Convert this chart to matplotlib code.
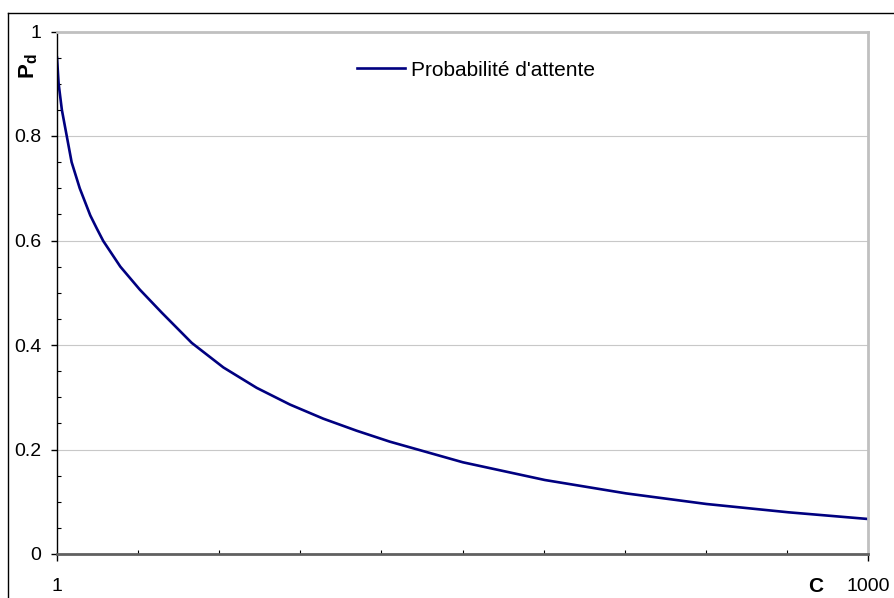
import numpy as np
import matplotlib.pyplot as plt
from matplotlib.lines import Line2D
from matplotlib.ticker import FixedLocator

plt.rcParams['font.family'] = ['Liberation Sans', 'DejaVu Sans']
plt.rcParams['mathtext.fontset'] = 'custom'
plt.rcParams['mathtext.bf'] = 'Liberation Sans:bold'
plt.rcParams['mathtext.rm'] = 'Liberation Sans'

# valeurs
c_vals = [1, 3, 7, 13, 19, 29, 42, 50, 58, 79, 103, 130, 167, 206, 247,
          288, 329, 370, 411, 501, 602, 702, 801, 902, 1000]
pd_vals = [0.95, 0.90, 0.85, 0.80, 0.750, 0.700, 0.648, 0.623, 0.599, 0.550,
           0.506, 0.462, 0.404, 0.357, 0.318, 0.286, 0.259, 0.236, 0.215,
           0.1755, 0.1416, 0.116, 0.0957, 0.0798, 0.067]
legend_label = "Probabilité d'attente"
y_ticks = [0, 0.2, 0.4, 0.6, 0.8, 1]
y_labels = ['0', '0.2', '0.4', '0.6', '0.8', '1']
x_min, x_max = 1, 1000

W, H = 894, 598
fig = plt.figure(figsize=(W / 100, H / 100), dpi=100)
ax = fig.add_axes([57 / W, 1 - 554 / H, (868 - 57) / W, (554 - 31.5) / H])

ax.plot(c_vals, pd_vals, color='#000080', lw=1.9, label=legend_label)

ax.set_xlim(x_min, x_max)
ax.set_ylim(0, 1)

# axe y : graduations principales vers l'extérieur, secondaires vers l'intérieur
ax.yaxis.set_major_locator(FixedLocator(y_ticks))
ax.yaxis.set_minor_locator(FixedLocator(np.arange(0.05, 1.0, 0.05)))
ax.set_yticklabels(y_labels)
ax.tick_params(axis='y', which='major', direction='out', length=4.5, width=1,
               pad=7, labelsize=14, color='black')
ax.tick_params(axis='y', which='minor', direction='in', length=3, width=0.8,
               color='black')

# axe x : 1 et 1000 seulement, graduations intermédiaires vers l'intérieur
ax.xaxis.set_major_locator(FixedLocator([x_min, x_max]))
ax.xaxis.set_minor_locator(FixedLocator(np.linspace(x_min, x_max, 11)[1:-1]))
ax.set_xticklabels(['1', '1000'])
ax.tick_params(axis='x', which='major', direction='out', length=5, width=1,
               pad=12, labelsize=14, color='black')
ax.tick_params(axis='x', which='minor', direction='in', length=3, width=0.8,
               color='black')

ax.grid(axis='y', which='major', color='#c8c8c8', lw=0.8)
ax.set_axisbelow(True)

ax.spines['left'].set_color('black')
ax.spines['left'].set_linewidth(1)
ax.spines['bottom'].set_color('#606060')
ax.spines['bottom'].set_linewidth(2)
for s in ('top', 'right'):
    ax.spines[s].set_color('#c0c0c0')
    ax.spines[s].set_linewidth(2)

# étiquettes des axes
fig.text(816 / W, 1 - 586 / H, 'C', fontsize=15, fontweight='bold',
         ha='center', va='center')
fig.text(29 / W, 1 - 66 / H, r'$\mathbf{P_d}$', fontsize=16, rotation=90,
         ha='center', va='center')

ax.legend(loc='center left', bbox_to_anchor=(357 / W, 1 - 70 / H),
          bbox_transform=fig.transFigure, frameon=False, fontsize=15,
          handlelength=2.3, handletextpad=0.3, borderpad=0, borderaxespad=0)

# cadre extérieur
fy = 1 - 13 / H
fx = 8 / W
fig.add_artist(Line2D([fx, fx], [0, fy], color='black', lw=1))
fig.add_artist(Line2D([fx, 1], [fy, fy], color='black', lw=1))

fig.savefig('out.png', dpi=100)
plt.close(fig)
